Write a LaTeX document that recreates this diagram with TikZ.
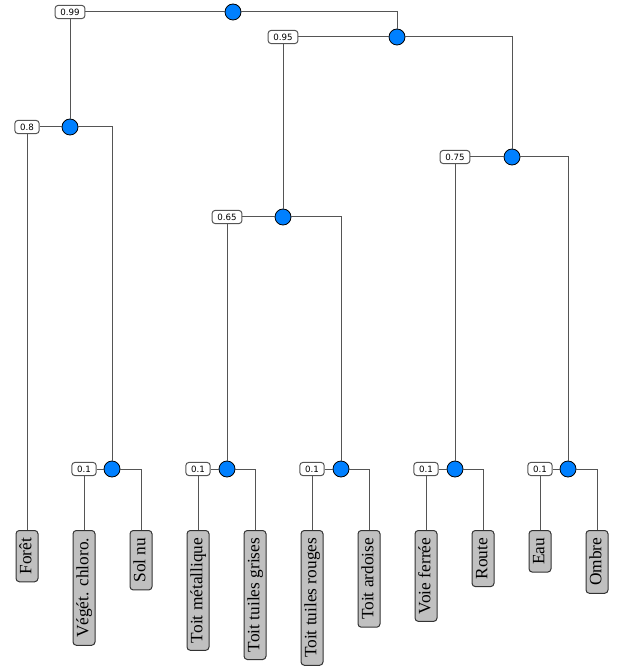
\documentclass[tikz,border=0pt]{standalone}
\usepackage{fontspec}
\setmainfont{Liberation Serif}
\newfontfamily\numfont{DejaVu Sans}
\definecolor{nodeblue}{RGB}{0,128,255}
\definecolor{leafgray}{RGB}{192,192,192}
\definecolor{linegray}{RGB}{85,85,85}
\tikzset{every picture/.style={line width=0.75pt}}

\begin{document}
\begin{tikzpicture}[x=0.75pt,y=0.75pt,yscale=-1,xscale=1,
  merge/.style={circle,draw=black,fill=nodeblue,minimum size=12pt,inner sep=0pt,line width=0.6pt},
  level/.style={draw=linegray,fill=white,rounded corners=2.5pt,font=\numfont\fontsize{6.5}{7}\selectfont,inner xsep=4pt,inner ysep=2.5pt,text height=5pt,text depth=0pt},
  leaf/.style={draw=black!80,fill=leafgray,rounded corners=2.5pt,rotate=90,anchor=east,font=\fontsize{13}{15}\selectfont,inner xsep=5.5pt,inner ysep=2pt,text height=9.5pt,text depth=3pt},
  link/.style={draw=linegray}]
  \path[use as bounding box] (0,0) rectangle (617,666);

  %Merge points
  \node[merge] (c0) at (233,12) {};
  \node[merge] (c1) at (70,127) {};
  \node[merge] (c2) at (397,37) {};
  \node[merge] (c3) at (283,217) {};
  \node[merge] (c4) at (512,157) {};
  \node[merge] (c5) at (112,469) {};
  \node[merge] (c6) at (227,469) {};
  \node[merge] (c7) at (341,469) {};
  \node[merge] (c8) at (455,469) {};
  \node[merge] (c9) at (568,469) {};

  %Level boxes
  \node[level] (b0) at (70,12) {0.99};
  \node[level] (b1) at (27,127) {0.8};
  \node[level] (b2) at (283,37) {0.95};
  \node[level] (b3) at (227,217) {0.65};
  \node[level] (b4) at (455,157) {0.75};
  \node[level] (b5) at (84,469) {0.1};
  \node[level] (b6) at (198,469) {0.1};
  \node[level] (b7) at (312,469) {0.1};
  \node[level] (b8) at (426,469) {0.1};
  \node[level] (b9) at (540,469) {0.1};

  %Leaves
  \node[leaf] (foret) at (27,530) {Forêt};
  \node[leaf] (veget) at (84,530) {Végét. chloro.};
  \node[leaf] (sol) at (141,530) {Sol nu};
  \node[leaf] (metal) at (198,530) {Toit métallique};
  \node[leaf] (grises) at (255,530) {Toit tuiles grises};
  \node[leaf] (rouges) at (312,530) {Toit tuiles rouges};
  \node[leaf] (ardoise) at (369,530) {Toit ardoise};
  \node[leaf] (voie) at (426,530) {Voie ferrée};
  \node[leaf] (route) at (483,530) {Route};
  \node[leaf] (eau) at (540,530) {Eau};
  \node[leaf] (ombre) at (597,530) {Ombre};

  %Links
  \draw[link] (b0) -- (c0);
  \draw[link] (c0) -| (c2);
  \draw[link] (b0) -- (c1);
  \draw[link] (b1) -- (c1);
  \draw[link] (b1) -- (foret);
  \draw[link] (c1) -| (c5);
  \draw[link] (b2) -- (c2);
  \draw[link] (c2) -| (c4);
  \draw[link] (b2) -- (c3);
  \draw[link] (b3) -- (c3);
  \draw[link] (b3) -- (c6);
  \draw[link] (c3) -| (c7);
  \draw[link] (b4) -- (c4);
  \draw[link] (b4) -- (c8);
  \draw[link] (c4) -| (c9);
  \draw[link] (b5) -- (c5);
  \draw[link] (b5) -- (veget);
  \draw[link] (c5) -| (sol);
  \draw[link] (b6) -- (c6);
  \draw[link] (b6) -- (metal);
  \draw[link] (c6) -| (grises);
  \draw[link] (b7) -- (c7);
  \draw[link] (b7) -- (rouges);
  \draw[link] (c7) -| (ardoise);
  \draw[link] (b8) -- (c8);
  \draw[link] (b8) -- (voie);
  \draw[link] (c8) -| (route);
  \draw[link] (b9) -- (c9);
  \draw[link] (b9) -- (eau);
  \draw[link] (c9) -| (ombre);
\end{tikzpicture}
\end{document}
